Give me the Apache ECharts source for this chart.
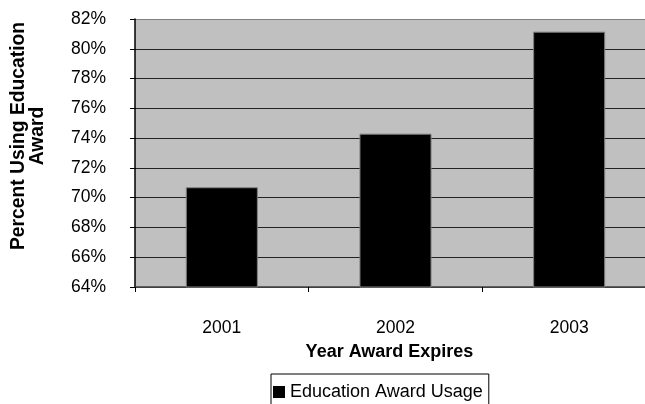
<!DOCTYPE html>
<html>
<head>
<meta charset="utf-8">
<script src="https://cdn.jsdelivr.net/npm/echarts@6/dist/echarts.min.js"></script>
<style>
  html, body { margin: 0; padding: 0; background: #ffffff; overflow: hidden; }
  /* the plot area runs slightly past the right edge of the window */
  #chart { width: 656px; height: 404px; }
</style>
</head>
<body>
<div id="chart"></div>
<script>
// Share of members using their education award, by expiry year
const years = ['2001', '2002', '2003'];
const usagePercent = [70.7, 74.3, 81.15];
const seriesName = 'Education Award Usage';
const yMin = 64, yMax = 82, yStep = 2;

const FONT = '"Liberation Sans", Arial, sans-serif';

const chart = echarts.init(document.getElementById('chart'), null, { renderer: 'canvas' });

chart.setOption({
  animation: false,
  backgroundColor: '#ffffff',
  textStyle: { fontFamily: FONT, color: '#000' },
  grid: {
    left: 135, right: 0, top: 19, bottom: 117,
    show: true, backgroundColor: '#c0c0c0', borderWidth: 0
  },
  legend: {
    data: [seriesName],
    left: 271, top: 374,
    orient: 'horizontal',
    borderColor: '#000', borderWidth: 1,
    padding: [9, 6, 12, 2],
    itemWidth: 12, itemHeight: 12,
    icon: 'rect',
    itemStyle: { color: '#000', borderWidth: 0 },
    textStyle: { fontFamily: FONT, fontSize: 18, color: '#000' }
  },
  graphic: [{
    type: 'text',
    x: 28, y: 136,
    rotation: Math.PI / 2,
    style: {
      text: 'Percent Using Education\nAward',
      font: 'bold 19.3px ' + FONT,
      fill: '#000',
      align: 'center',
      verticalAlign: 'middle',
      lineHeight: 19
    }
  }],
  xAxis: {
    type: 'category',
    data: years,
    boundaryGap: true,
    name: 'Year Award Expires',
    nameLocation: 'middle',
    nameGap: 56,
    nameTextStyle: { fontFamily: FONT, fontSize: 18, fontWeight: 'bold', color: '#000', padding: [0, 12, 0, 0] },
    axisLine: { show: true, lineStyle: { color: '#404040', width: 1.5 } },
    axisTick: { show: true, length: 5, lineStyle: { color: '#000' } },
    axisLabel: { fontFamily: FONT, fontSize: 17.5, color: '#000', margin: 32 },
    splitLine: { show: false }
  },
  yAxis: {
    type: 'value',
    min: yMin, max: yMax, interval: yStep,
    axisLine: { show: true, lineStyle: { color: '#000', width: 1.5 } },
    axisTick: { show: true, length: 5, lineStyle: { color: '#000' } },
    axisLabel: {
      fontFamily: FONT, fontSize: 17.5, color: '#000', margin: 29,
      formatter: '{value}%'
    },
    splitLine: {
      show: true,
      lineStyle: {
        color: ['#404040', '#222', '#222', '#222', '#222', '#222', '#222', '#222', '#222', '#808080'],
        width: 1.2
      }
    }
  },
  series: [{
    name: seriesName,
    type: 'bar',
    data: usagePercent,
    barWidth: '41.5%',
    itemStyle: { color: '#000', borderColor: '#808080', borderWidth: 1 }
  }]
});
</script>
</body>
</html>
